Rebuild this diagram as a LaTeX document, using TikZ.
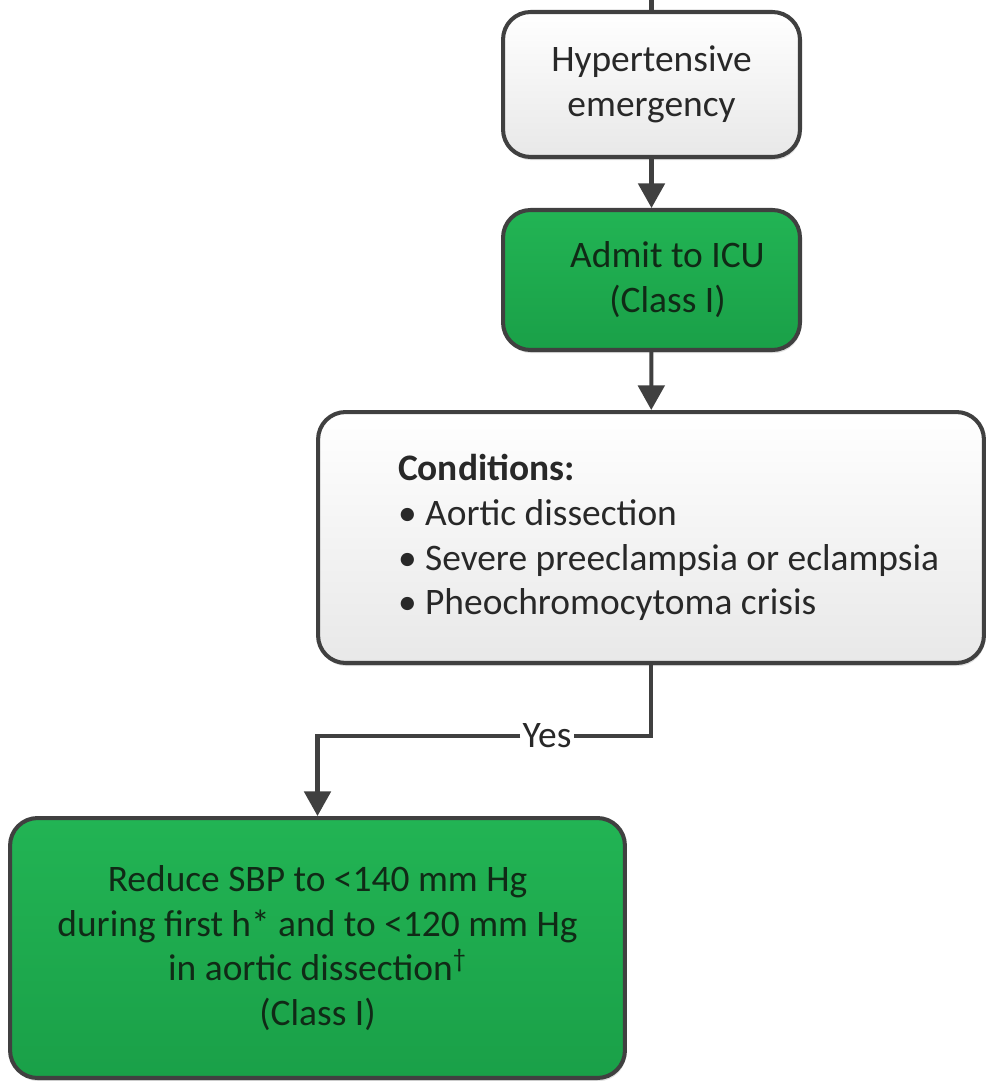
\documentclass[tikz,border=0pt]{standalone}
\usepackage{fontspec}
\setmainfont{Carlito}
\usetikzlibrary{arrows.meta,shadows}
\definecolor{boxline}{RGB}{64,64,64}
\definecolor{boxgreen}{RGB}{34,180,84}
\definecolor{boxgreendark}{RGB}{26,160,72}
\definecolor{textgreen}{RGB}{16,42,22}
\definecolor{textgray}{RGB}{40,40,40}

\begin{document}
\begin{tikzpicture}[x=0.02cm, y=-0.02cm,
	box/.style={draw=boxline, line width=2.3pt, rounded corners=0.55cm, align=center,
		font=\fontsize{21.3}{25.5}\selectfont, inner sep=0pt,
		drop shadow={shadow xshift=0.6pt, shadow yshift=-1.8pt, opacity=0.25}},
	graybox/.style={box, top color=white, bottom color=gray!18, text=textgray},
	greenbox/.style={box, top color=boxgreen, bottom color=boxgreendark, text=textgreen},
	link/.style={draw=boxline, line width=2.3pt},
	flow/.style={link, -{Triangle[width=15pt,length=14pt]}}]
	\useasboundingbox (0,0) rectangle (986,1081);

	% caselle
	\node[graybox, minimum width=5.94cm, minimum height=2.9cm] (emerg) at (651.5,84.5) {Hypertensive\\emergency};
	\node[greenbox, minimum width=5.94cm, minimum height=2.8cm] (icu) at (651.5,280) {\hspace*{0.64cm}Admit to ICU\\\hspace*{0.64cm}(Class I)};
	\node[graybox, minimum width=13.32cm, minimum height=5.02cm, text width=12.12cm, inner xsep=0.6cm, align=flush left] (cond) at (651,537.5)
		{\hspace*{1cm}\textbf{Conditions:}\\\hspace*{1cm}• Aortic dissection\\\hspace*{1cm}• Severe preeclampsia or eclampsia\\\hspace*{1cm}• Pheochromocytoma crisis};
	\node[greenbox, minimum width=12.3cm, minimum height=5.2cm] (sbp) at (317.5,948)
		{Reduce SBP to <140 mm Hg\\during first h* and to <120 mm Hg\\in aortic dissection\textsuperscript{†}\\(Class I)};

	% frecce
	\coordinate (stub) at (emerg.north |- 0,0);
	\draw[link] (stub) -- (emerg.north);
	\draw[flow] (emerg) -- (icu);
	\draw[flow] (icu) -- (cond);
	\node[font=\fontsize{21.3}{25.5}\selectfont, text=textgray, fill=white, inner sep=1pt] (yes) at (547,736) {Yes};
	\draw[link] (cond.south) |- (yes.east);
	\draw[flow] (yes.west) -| (sbp.north);
\end{tikzpicture}
\end{document}
